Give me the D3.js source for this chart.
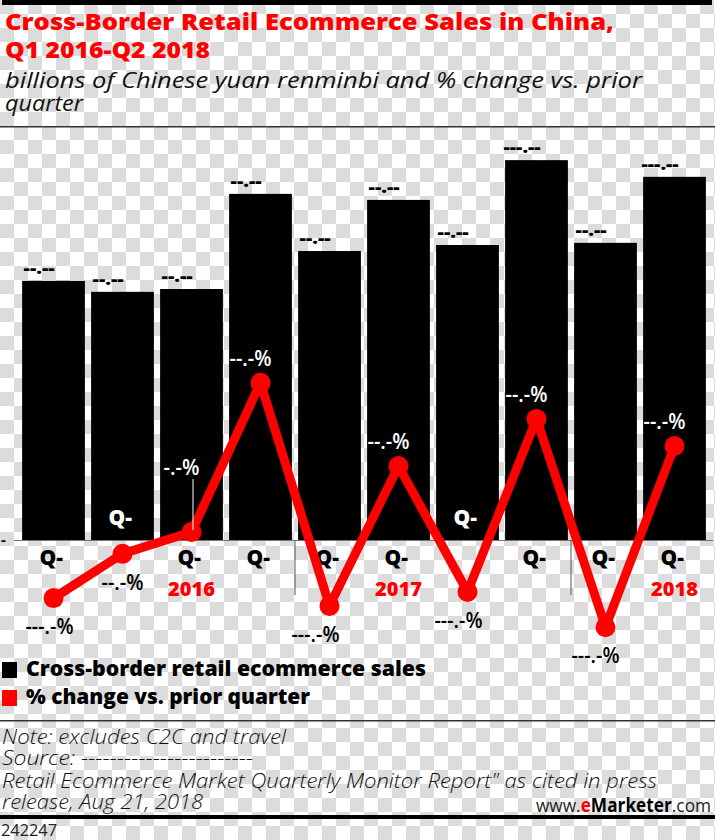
<!DOCTYPE html>
<html>
<head>
<meta charset="utf-8">
<script src="https://cdn.jsdelivr.net/npm/d3@7"></script>
<style>
  html, body { margin: 0; padding: 0; background: #fff; }
  svg { display: block; }
</style>
</head>
<body>
<div id="chart"></div>
<script>
// ---------- data ----------
const quarterLabels = ["Q-", "Q-", "Q-", "Q-", "Q-", "Q-", "Q-", "Q-", "Q-", "Q-"];
const quarterKeys = ["Q1 2016", "Q2 2016", "Q3 2016", "Q4 2016", "Q1 2017", "Q2 2017", "Q3 2017", "Q4 2017", "Q1 2018", "Q2 2018"];
const sales = [73.0, 69.9, 70.7, 97.5, 81.4, 95.8, 83.1, 107.0, 83.7, 102.3];
const salesLabels = ["--.--", "--.--", "--.--", "--.--", "--.--", "--.--", "--.--", "---.--", "--.--", "---.--"];
const pctChange = [-14.9, -4.1, 1.2, 37.6, -16.8, 17.3, -13.4, 28.8, -22.0, 22.2];
const pctLabels = ["---.-%", "--.-%", "-.-%", "--.-%", "---.-%", "--.-%", "---.-%", "--.-%", "---.-%", "--.-%"];
const yearLabels = ["2016", "2017", "2018"];
const yearAt = ["Q3 2016", "Q2 2017", "Q2 2018"];
const yearBreaksAfter = ["Q4 2016", "Q4 2017"];
const legendLabels = ["Cross-border retail ecommerce sales", "% change vs. prior quarter"];
const zeroTickLabel = "-";

// ---------- layout (not data) ----------
const W = 715, H = 840;
const baseY = 540;
const pctLabelDx = [-4, 0, -10, -10, -14, -10, -9, -10, -10, -10];
const whiteQ = new Set(["Q2 2016", "Q3 2017"]);
const red = "#ff0000";
const gray = "#dcdcdc";

const svg = d3.select("#chart").append("svg")
  .attr("width", W).attr("height", H);

// checkerboard background
const defs = svg.append("defs");
const pat = defs.append("pattern").attr("id", "checker")
  .attr("width", 28).attr("height", 28).attr("patternUnits", "userSpaceOnUse");
pat.append("rect").attr("width", 28).attr("height", 28).attr("fill", "#fff");
pat.append("rect").attr("x", 0).attr("y", 0).attr("width", 14).attr("height", 14).attr("fill", gray);
pat.append("rect").attr("x", 14).attr("y", 14).attr("width", 14).attr("height", 14).attr("fill", gray);
svg.append("rect").attr("width", W).attr("height", H).attr("fill", "url(#checker)");

// header
svg.append("rect").attr("x", 2).attr("y", 0).attr("width", 710).attr("height", 5).attr("fill", "#000");
const titleFont = "'Open Sans', Lato, sans-serif";
svg.append("text").attr("x", 5).attr("y", 30)
  .attr("font-family", titleFont).attr("font-weight", 800).attr("font-size", 22)
  .attr("fill", red).attr("textLength", 609).attr("lengthAdjust", "spacingAndGlyphs")
  .text("Cross-Border Retail Ecommerce Sales in China,");
svg.append("text").attr("x", 5).attr("y", 58)
  .attr("font-family", titleFont).attr("font-weight", 800).attr("font-size", 22)
  .attr("fill", red).attr("textLength", 205).attr("lengthAdjust", "spacingAndGlyphs")
  .text("Q1 2016-Q2 2018");
const subFont = "'Open Sans', sans-serif";
svg.append("text").attr("x", 5).attr("y", 88)
  .attr("font-family", subFont).attr("font-style", "italic").attr("font-weight", 400).attr("font-size", 22)
  .attr("fill", "#111").attr("textLength", 637).attr("lengthAdjust", "spacingAndGlyphs")
  .text("billions of Chinese yuan renminbi and % change vs. prior");
svg.append("text").attr("x", 5).attr("y", 111)
  .attr("font-family", subFont).attr("font-style", "italic").attr("font-weight", 400).attr("font-size", 22)
  .attr("fill", "#111").attr("textLength", 78).attr("lengthAdjust", "spacingAndGlyphs")
  .text("quarter");
svg.append("rect").attr("x", 0).attr("y", 126).attr("width", W).attr("height", 1.5).attr("fill", "#333");

// scales
const x = d3.scaleBand().domain(quarterKeys).range([19, 709]).paddingInner(0.09).paddingOuter(0.045);
const ySales = d3.scaleLinear().domain([0, 100]).range([baseY, 185]);
const yPct = d3.scaleLinear().domain([0, 10]).range([537, 496]);
const cx = k => x(k) + x.bandwidth() / 2;

const rows = quarterKeys.map((k, i) => ({
  k, i, sales: sales[i], sLabel: salesLabels[i], pct: pctChange[i], pLabel: pctLabels[i], q: quarterLabels[i]
}));

// bars
svg.append("g").selectAll("rect").data(rows).join("rect")
  .attr("x", d => x(d.k)).attr("width", x.bandwidth())
  .attr("y", d => ySales(d.sales)).attr("height", d => baseY - ySales(d.sales))
  .attr("fill", "#000");

// bar value labels
svg.append("g").selectAll("text").data(rows).join("text")
  .attr("x", d => x(d.k) + 17).attr("y", d => ySales(d.sales) - 7)
  .attr("text-anchor", "middle")
  .attr("font-family", "'Open Sans', sans-serif").attr("font-weight", 800).attr("font-size", 18)
  .attr("fill", "#000")
  .attr("textLength", d => d.sLabel.length === 5 ? 31 : 37)
  .attr("lengthAdjust", "spacingAndGlyphs")
  .text(d => d.sLabel);

// baseline axis
const axis = d3.axisBottom(x).tickSize(0).tickFormat(() => "");
const ax = svg.append("g").attr("transform", `translate(0,${baseY})`).call(axis);
ax.select(".domain").attr("d", `M14,0.5H713`).attr("stroke", "#777").attr("stroke-width", 1);
svg.append("text").attr("x", 1).attr("y", 545)
  .attr("font-family", "'Open Sans', sans-serif").attr("font-weight", 700).attr("font-size", 15)
  .attr("fill", "#000").text(zeroTickLabel);

// quarter labels
svg.append("g").selectAll("text").data(rows).join("text")
  .attr("x", d => cx(d.k) - 14)
  .attr("y", d => whiteQ.has(d.k) ? 525 : 565)
  .attr("font-family", "'Open Sans', sans-serif").attr("font-weight", 800).attr("font-size", 21)
  .attr("fill", d => whiteQ.has(d.k) ? "#fff" : "#000")
  .text(d => d.q);

// year labels
svg.append("g").selectAll("text").data(yearLabels).join("text")
  .attr("x", (d, i) => cx(yearAt[i])).attr("y", 596)
  .attr("text-anchor", "middle")
  .attr("font-family", "'Open Sans', sans-serif").attr("font-weight", 800).attr("font-size", 20)
  .attr("fill", red).text(d => d);

// year separators
svg.append("g").selectAll("line").data(yearBreaksAfter).join("line")
  .attr("x1", d => x(d) + x.bandwidth() + x.step() * x.paddingInner() / 2)
  .attr("x2", d => x(d) + x.bandwidth() + x.step() * x.paddingInner() / 2)
  .attr("y1", baseY).attr("y2", 595)
  .attr("stroke", "#555").attr("stroke-width", 1);

// line
const line = d3.line().x(d => cx(d.k)).y(d => yPct(d.pct));
svg.append("path").datum(rows).attr("d", line)
  .attr("fill", "none").attr("stroke", red).attr("stroke-width", 9).attr("stroke-linejoin", "round");
svg.append("g").selectAll("circle").data(rows).join("circle")
  .attr("cx", d => cx(d.k)).attr("cy", d => yPct(d.pct)).attr("r", 10).attr("fill", red);

// pct labels
const pctY = d => {
  if (d.k === "Q3 2016") return 475;
  return d.pct > 0 ? yPct(d.pct) - 17 : yPct(d.pct) + 36;
};
svg.append("g").selectAll("text").data(rows).join("text")
  .attr("x", d => cx(d.k) + pctLabelDx[d.i]).attr("y", pctY)
  .attr("text-anchor", "middle")
  .attr("font-family", "'Open Sans', sans-serif").attr("font-weight", 600).attr("font-size", 21)
  .attr("fill", d => d.pct > 0 ? "#fff" : "#000")
  .attr("textLength", d => 12 + 6 * d.pLabel.length)
  .attr("lengthAdjust", "spacingAndGlyphs")
  .text(d => d.pLabel);
// leader for small label
const q3 = rows[2];
svg.append("line").attr("x1", cx(q3.k) + 1.5).attr("x2", cx(q3.k) + 1.5)
  .attr("y1", 479).attr("y2", yPct(q3.pct) - 2)
  .attr("stroke", "#fff").attr("stroke-width", 1);

// legend
const legColors = ["#000", red];
const legW = [400, 284];
const lg = svg.append("g");
legendLabels.forEach((t, i) => {
  const y0 = 662 + i * 28;
  lg.append("rect").attr("x", 2).attr("y", y0).attr("width", 15).attr("height", 16).attr("fill", legColors[i]);
  lg.append("text").attr("x", 26).attr("y", y0 + 14)
    .attr("font-family", "'Open Sans', sans-serif").attr("font-weight", 800).attr("font-size", 21)
    .attr("fill", "#000").attr("textLength", legW[i]).attr("lengthAdjust", "spacingAndGlyphs")
    .text(t);
});

svg.append("rect").attr("x", 0).attr("y", 720).attr("width", W).attr("height", 1.5).attr("fill", "#333");

// notes
const notes = [
  ["Note: excludes C2C and travel", 744, 284],
  ["Source: ------------------------", 765, 251],
  ["Retail Ecommerce Market Quarterly Monitor Report\" as cited in press", 788, 655],
  ["release, Aug 21, 2018", 809, 201]
];
notes.forEach(([t, y, w]) => {
  svg.append("text").attr("x", 2).attr("y", y)
    .attr("font-family", "'Open Sans', sans-serif").attr("font-style", "italic").attr("font-weight", 300)
    .attr("font-size", 20).attr("fill", "#111")
    .attr("textLength", w).attr("lengthAdjust", "spacingAndGlyphs").text(t);
});

const em = svg.append("text").attr("x", 711).attr("y", 812).attr("text-anchor", "end")
  .attr("font-family", "'Open Sans', sans-serif").attr("font-size", 19).attr("fill", "#222")
  .attr("textLength", 175).attr("lengthAdjust", "spacingAndGlyphs");
em.append("tspan").text("www.");
em.append("tspan").attr("fill", red).attr("font-weight", 700).text("e");
em.append("tspan").attr("font-weight", 700).attr("fill", "#000").text("Marketer");
em.append("tspan").text(".com");

svg.append("rect").attr("x", 0).attr("y", 815).attr("width", W).attr("height", 4).attr("fill", "#000");
svg.append("text").attr("x", 1).attr("y", 836)
  .attr("font-family", "'Open Sans', sans-serif").attr("font-size", 16).attr("fill", "#222")
  .attr("textLength", 56).attr("lengthAdjust", "spacingAndGlyphs").text("242247");
</script>
</body>
</html>
